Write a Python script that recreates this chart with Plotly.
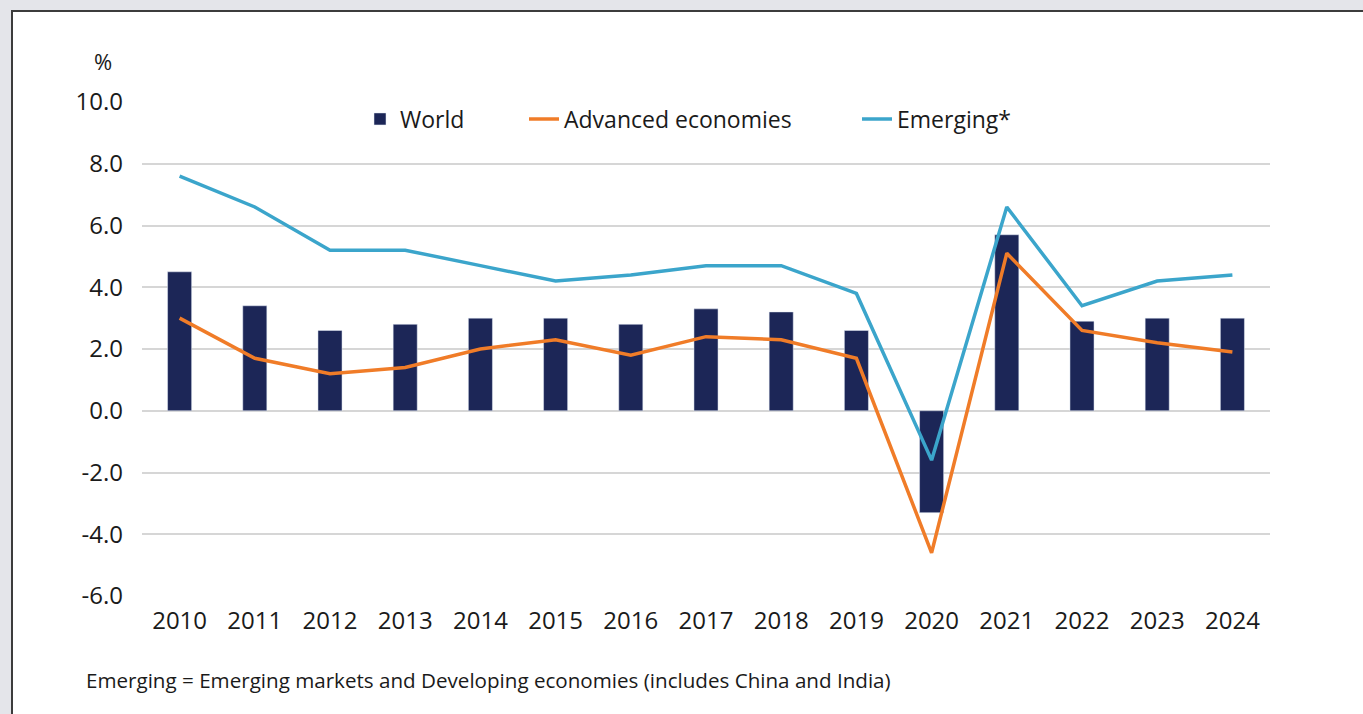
import plotly.graph_objects as go

years = [str(y) for y in range(2010, 2025)]
world = [4.5, 3.4, 2.6, 2.8, 3.0, 3.0, 2.8, 3.3, 3.2, 2.6, -3.3, 5.7, 2.9, 3.0, 3.0]
advanced = [3.0, 1.7, 1.2, 1.4, 2.0, 2.3, 1.8, 2.4, 2.3, 1.7, -4.6, 5.1, 2.6, 2.2, 1.9]
emerging = [7.6, 6.6, 5.2, 5.2, 4.7, 4.2, 4.4, 4.7, 4.7, 3.8, -1.6, 6.6, 3.4, 4.2, 4.4]
y_tickvals = [-6, -4, -2, 0, 2, 4, 6, 8, 10]
y_ticktext = ["-6.0", "-4.0", "-2.0", "0.0", "2.0", "4.0", "6.0", "8.0", "10.0"]

NAVY = "#1c2657"
ORANGE = "#f07c28"
BLUE = "#3ba5cb"
FONT = "Open Sans"
TXT = "#1a1a1a"

W, H = 1363, 714
L, R, T, B = 142, W - 1270, 102, H - 596
PW, PH = W - L - R, H - T - B

def px(x):
    return (x - L) / PW

def py(y):
    return (H - B - y) / PH

fig = go.Figure()
fig.add_trace(go.Bar(x=years, y=world, name="World", marker_color=NAVY,
                     width=0.32, legend="legend", showlegend=True))
fig.add_trace(go.Scatter(x=years, y=advanced, name="Advanced economies", mode="lines",
                         line=dict(color=ORANGE, width=3.5), legend="legend2"))
fig.add_trace(go.Scatter(x=years, y=emerging, name="Emerging*", mode="lines",
                         line=dict(color=BLUE, width=3.5), legend="legend3"))

leg_common = dict(orientation="h", yanchor="middle", y=py(119), xanchor="left",
                  bgcolor="rgba(0,0,0,0)", borderwidth=0, visible=True,
                  font=dict(family=FONT, size=23, color=TXT))
fig.update_layout(
    showlegend=True,
    legend=dict(x=px(400 - 40), **leg_common),
    legend2=dict(x=px(564 - 40), **leg_common),
    legend3=dict(x=px(897 - 40), **leg_common),
)

fig.update_layout(
    width=W, height=H,
    margin=dict(l=L, r=R, t=T, b=B, pad=0),
    paper_bgcolor="#e4e5ea",
    plot_bgcolor="white",
    font=dict(family=FONT, color=TXT),
    xaxis=dict(type="category", showgrid=False, showline=False, zeroline=False,
               ticks="", tickfont=dict(family=FONT, size=24, color=TXT),
               ticklabelstandoff=8, fixedrange=True),
    yaxis=dict(range=[-6, 10], tickvals=y_tickvals, ticktext=y_ticktext,
               showgrid=True, gridcolor="#d6d6d6", gridwidth=2,
               zeroline=True, zerolinecolor="#d6d6d6", zerolinewidth=2,
               showline=False, ticks="",
               tickfont=dict(family=FONT, size=24, color=TXT),
               ticklabelstandoff=18, fixedrange=True),
    shapes=[dict(type="rect", xref="paper", yref="paper",
                 x0=px(12), x1=px(1400), y0=py(760), y1=py(11),
                 fillcolor="white", line=dict(color="#3c3c3c", width=2),
                 layer="below")],
    annotations=[
        dict(text="%", xref="paper", yref="paper", x=px(103), y=py(61),
             xanchor="center", yanchor="middle", showarrow=False,
             font=dict(family=FONT, size=22, color=TXT)),
        dict(text="Emerging = Emerging markets and Developing economies (includes China and India)",
             xref="paper", yref="paper", x=px(84), y=py(680),
             xanchor="left", yanchor="middle", showarrow=False,
             font=dict(family=FONT, size=20.6, color=TXT)),
    ],
)

fig.write_html("out.html", config={"displayModeBar": False},
               post_script="document.body.style.margin='0';document.body.style.overflow='hidden';")
